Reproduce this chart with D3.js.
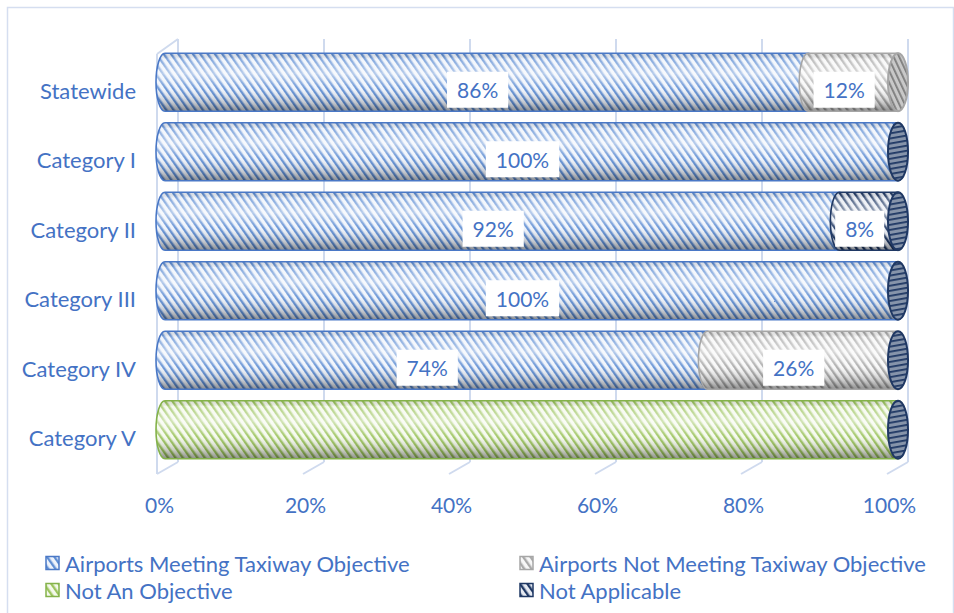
<!DOCTYPE html>
<html>
<head>
<meta charset="utf-8">
<script src="https://cdn.jsdelivr.net/npm/d3@7"></script>
<style>
  html, body { margin: 0; padding: 0; background: #ffffff; }
  svg { display: block; }
  text { font-family: Lato, "Open Sans", sans-serif; fill: #4472C4; }
</style>
</head>
<body>
<svg id="chart" width="954" height="613"></svg>
<script>
// Taxiway objective status by airport category (100% stacked cylinders)
const categories = ["Statewide", "Category I", "Category II", "Category III", "Category IV", "Category V"];
const seriesNames = [
  "Airports Meeting Taxiway Objective",
  "Airports Not Meeting Taxiway Objective",
  "Not An Objective",
  "Not Applicable"
];
const meeting       = [86, 100, 92, 100, 74, 0];
const notMeeting    = [12, 0, 0, 0, 26, 0];
const notObjective  = [null, 0, 0, 0, 0, 100];
const notApplicable = [null, 0, 8, 0, 0, 0];
const tickValues = [0, 0.2, 0.4, 0.6, 0.8, 1];
const labelledSeries = [0, 1, 3];

const seriesValues = [meeting, notMeeting, notObjective, notApplicable];
const rows = categories.map((c, i) => {
  const r = { category: c };
  seriesNames.forEach((s, j) => { r[s] = seriesValues[j][i]; });
  return r;
});

const stack = d3.stack()
  .keys(seriesNames)
  .value((d, key) => d[key] == null ? 0 : d[key])
  .offset(d3.stackOffsetExpand);
const stacked = stack(rows);

// series styling
const styles = [
  { bg: "#eef3fb", stripe: "#5f8ed3", edge: "#4a78c6", capBg: "#9fb6df", capStripe: "#3e68b3" },
  { bg: "#f7f7f7", stripe: "#a9a9a9", edge: "#a6a6a6", capBg: "#c8c8c8", capStripe: "#7d7d7d" },
  { bg: "#f4f9ec", stripe: "#9cc45e", edge: "#84b24a", capBg: "#b9d68f", capStripe: "#6c9a35" },
  { bg: "#e6eaf2", stripe: "#1f3864", edge: "#1f3864", capBg: "#8694aa", capStripe: "#1f3864" }
];

const svg = d3.select("#chart");
const defs = svg.append("defs");

styles.forEach((s, i) => {
  const p = defs.append("pattern")
    .attr("id", "pat" + i)
    .attr("patternUnits", "userSpaceOnUse")
    .attr("width", 6).attr("height", 6)
    .attr("patternTransform", "rotate(-35)");
  p.append("rect").attr("width", 6).attr("height", 6).attr("fill", s.bg);
  p.append("rect").attr("x", 0).attr("y", 0).attr("width", 2.4).attr("height", 6).attr("fill", s.stripe);

  const c = defs.append("pattern")
    .attr("id", "cap" + i)
    .attr("patternUnits", "userSpaceOnUse")
    .attr("width", 5).attr("height", 5)
    .attr("patternTransform", i === 3 ? "rotate(80)" : "rotate(-25)");
  c.append("rect").attr("width", 5).attr("height", 5).attr("fill", s.capBg);
  c.append("rect").attr("width", 1.8).attr("height", 5).attr("fill", s.capStripe);
});

// cylinder shading
const shade = defs.append("linearGradient")
  .attr("id", "shade").attr("x1", 0).attr("y1", 0).attr("x2", 0).attr("y2", 1);
[
  [0, "#000000", 0.08],
  [0.1, "#ffffff", 0.25],
  [0.35, "#ffffff", 0.55],
  [0.62, "#ffffff", 0.1],
  [0.85, "#000000", 0.18],
  [1, "#000000", 0.42]
].forEach(([o, c, a]) => shade.append("stop").attr("offset", o).attr("stop-color", c).attr("stop-opacity", a));

// chart border
svg.append("rect")
  .attr("x", 7.5).attr("y", 7.5).attr("width", 946).attr("height", 620)
  .attr("fill", "none").attr("stroke", "#d5def0").attr("stroke-width", 1.5);

// 3D frame: back wall gridlines, floor ticks, side wall
const xBack = d3.scaleLinear().domain([0, 1]).range([178, 908]);
const xFront = d3.scaleLinear().domain([0, 1]).range([157, 887]);
const wallTop = 39, backBottom = 462, frontBottom = 474, frontTop = 54;
const grid = svg.append("g").attr("stroke", "#cfdaee").attr("stroke-width", 2).attr("fill", "none");
tickValues.forEach(t => {
  grid.append("line").attr("x1", xBack(t)).attr("x2", xBack(t)).attr("y1", wallTop).attr("y2", backBottom);
  grid.append("line").attr("x1", xFront(t)).attr("x2", xBack(t)).attr("y1", frontBottom).attr("y2", backBottom);
});
grid.append("line").attr("x1", xFront(0)).attr("x2", xFront(0)).attr("y1", frontTop).attr("y2", frontBottom);
grid.append("line").attr("x1", xFront(0)).attr("x2", xBack(0)).attr("y1", frontTop).attr("y2", wallTop);

// bars
const x = d3.scaleLinear().domain([0, 1]).range([165, 898]);
const y = d3.scaleBand().domain(categories).range([47.5, 464.5]).paddingInner(0.165).paddingOuter(0.0825);
const rx = 9;
const h = y.bandwidth();

function segPath(xa, xb, yt) {
  const yb = yt + h, ry = h / 2;
  return `M${xa},${yt}L${xb},${yt}A${rx},${ry} 0 0 1 ${xb},${yb}L${xa},${yb}A${rx},${ry} 0 0 1 ${xa},${yt}Z`;
}

const barG = svg.append("g");
categories.forEach((cat, ci) => {
  const yt = y(cat);
  const g = barG.append("g");
  let capSeries = 0, end = x(0);
  stacked.forEach((layer, si) => {
    const d = layer[ci];
    const raw = seriesValues[si][ci];
    if (raw != null) { capSeries = si; end = x(d[1]); }
    if (d[1] - d[0] <= 0) return;
    const p = segPath(x(d[0]), x(d[1]), yt);
    g.append("path").attr("d", p).attr("fill", `url(#pat${si})`);
    g.append("path").attr("d", p).attr("fill", "url(#shade)")
      .attr("stroke", styles[si].edge).attr("stroke-width", 1.6);
  });
  g.append("ellipse")
    .attr("cx", end).attr("cy", yt + h / 2).attr("rx", rx + 1).attr("ry", h / 2)
    .attr("fill", `url(#cap${capSeries})`)
    .attr("stroke", styles[capSeries].edge).attr("stroke-width", 2);
});

// data labels
const labelG = svg.append("g");
categories.forEach((cat, ci) => {
  const cy = y(cat) + h / 2 + 7.5;
  labelledSeries.forEach(si => {
    const v = seriesValues[si][ci];
    if (!v) return;
    const d = stacked[si][ci];
    const cx = (x(d[0]) + x(d[1])) / 2 - 9;
    const lg = labelG.append("g");
    const t = lg.append("text")
      .attr("x", cx).attr("y", cy).attr("text-anchor", "middle")
      .attr("dominant-baseline", "central").attr("font-size", 21)
      .text(v + "%");
    const w = t.node().getComputedTextLength() + 20;
    lg.insert("rect", "text")
      .attr("x", cx - w / 2).attr("y", cy - 18).attr("width", w).attr("height", 36)
      .attr("fill", "#ffffff");
  });
});

// category axis
svg.append("g").selectAll("text").data(categories).join("text")
  .attr("x", 136).attr("y", d => y(d) + h / 2 + 8)
  .attr("text-anchor", "end").attr("dominant-baseline", "central")
  .attr("font-size", 22).text(d => d);

// value axis
const axis = svg.append("g").attr("transform", "translate(2,495)")
  .call(d3.axisBottom(xFront).tickValues(tickValues).tickFormat(d3.format(".0%")).tickSize(0));
axis.select(".domain").remove();
axis.selectAll("text").attr("font-size", 21).attr("font-family", "Lato, 'Open Sans', sans-serif").attr("fill", "#4472C4");

// legend
const legendPos = [[46, 563], [520, 563], [46, 590], [520, 590]];
const leg = svg.append("g");
seriesNames.forEach((name, si) => {
  const [lx, ly] = legendPos[si];
  leg.append("rect").attr("x", lx).attr("y", ly - 6.5).attr("width", 13).attr("height", 13)
    .attr("fill", `url(#pat${si})`).attr("stroke", styles[si].edge).attr("stroke-width", 1.5);
  leg.append("text").attr("x", lx + 19).attr("y", ly).attr("dominant-baseline", "central")
    .attr("font-size", 22).text(name);
});
</script>
</body>
</html>
